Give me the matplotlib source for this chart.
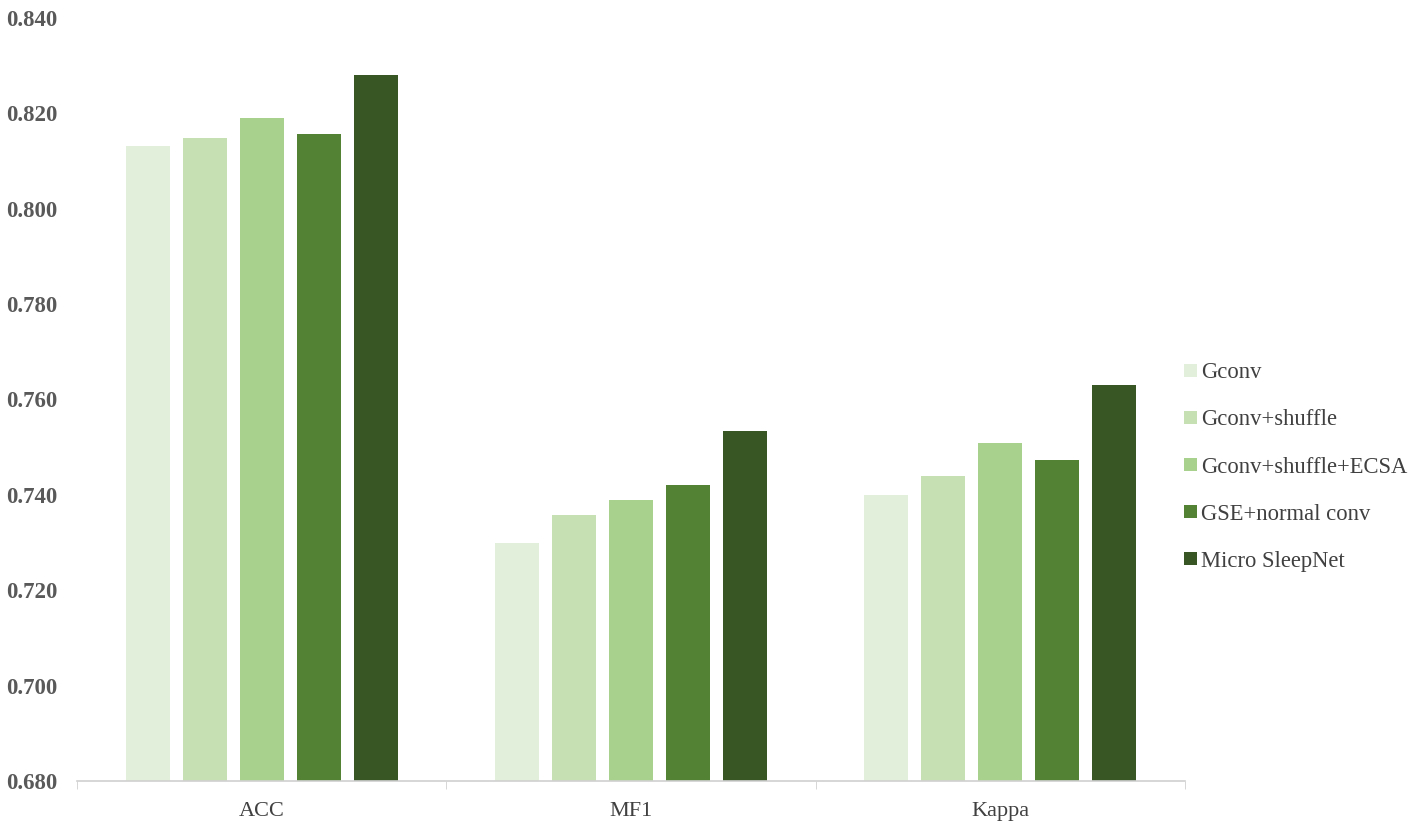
import matplotlib
matplotlib.use("Agg")
import matplotlib.pyplot as plt
import numpy as np

metrics = ["ACC", "MF1", "Kappa"]
models = ["Gconv", "Gconv+shuffle", "Gconv+shuffle+ECSA", "GSE+normal conv", "Micro SleepNet"]
gconv = [0.8132, 0.7299, 0.7400]
gconv_shuffle = [0.8148, 0.7358, 0.7440]
gconv_shuffle_ecsa = [0.8190, 0.7389, 0.7509]
gse_normal = [0.8157, 0.7421, 0.7473]
micro_sleepnet = [0.8280, 0.7534, 0.7630]
colors = ["#E2EFDA", "#C6E0B4", "#A9D18E", "#548235", "#375623"]

plt.rcParams["font.family"] = ["Liberation Serif", "DejaVu Serif"]

fig = plt.figure(figsize=(14.18, 8.27), dpi=100)
ax = fig.add_axes([77 / 1418, 1 - 781 / 827, (1185 - 77) / 1418, (781 - 18) / 827])

series = [gconv, gconv_shuffle, gconv_shuffle_ecsa, gse_normal, micro_sleepnet]
x = np.arange(len(metrics))
step, width = 0.1545, 0.119
for i, (name, vals, c) in enumerate(zip(models, series, colors)):
    ax.bar(x + (i - 2) * step, vals, width, color=c, label=name, zorder=2)

ax.set_xlim(-0.5, 2.5)
ax.set_ylim(0.68, 0.84)
yt = np.arange(0.68, 0.8401, 0.02)
ax.set_yticks(yt)
ax.set_yticklabels([f"{v:.3f}" for v in yt], fontsize=16.5, fontweight="bold", color="#595959")
ax.set_xticks(x)
ax.set_xticklabels(metrics, fontsize=16, color="#404040")
ax.set_xticks([-0.5, 0.5, 1.5, 2.5], minor=True)
ax.tick_params(axis="x", which="major", length=0, pad=15)
ax.tick_params(axis="x", which="minor", length=6, color="#D0D0D0", direction="out")
ax.tick_params(axis="y", length=0, pad=14)
for s in ["top", "right", "left"]:
    ax.spines[s].set_visible(False)
ax.spines["bottom"].set_color("#D0D0D0")
ax.spines["bottom"].set_linewidth(1.2)

ax.legend(loc="center left", bbox_to_anchor=(1164 / 1418, 1 - 467 / 827), bbox_transform=fig.transFigure,
          frameon=False, fontsize=16.3, handlelength=0.55, handleheight=0.55, handletextpad=0.2,
          labelspacing=1.15, labelcolor="#404040")

fig.savefig("out.png", dpi=100)
